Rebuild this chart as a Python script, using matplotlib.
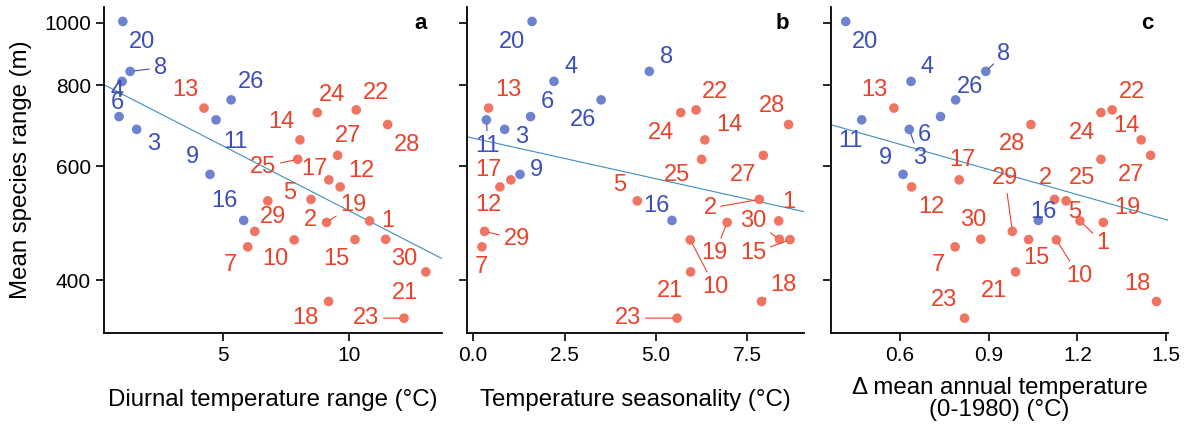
from matplotlib import pyplot as plt
from matplotlib.ticker import NullLocator
import numpy as np

plt.rcParams['font.family'] = ['Liberation Sans', 'DejaVu Sans']

# site numbers 1..30
sites = np.arange(1, 31)

# mean species range (m), one value per site
mean_range = np.array([493.7, 533.0, 683.8, 811.1, 530.2, 715.6, 450.2, 840.5, 582.6, 461.5,
                       707.3, 557.2, 737.6, 658.7, 462.0, 494.6, 571.3, 370.7, 491.1, 1004.0,
                       411.8, 732.9, 349.3, 725.9, 614.6, 759.5, 623.4, 695.6, 475.7, 462.5])

# diurnal temperature range (C)
diurnal = np.array([10.82, 8.49, 1.55, 0.97, 6.77, 0.85, 5.97, 1.29, 4.47, 7.82,
                    4.71, 9.65, 4.23, 8.05, 10.24, 5.81, 9.20, 9.19, 9.11, 1.00,
                    13.06, 10.29, 12.19, 8.74, 7.96, 5.31, 9.55, 11.54, 6.25, 11.46])

# temperature seasonality (C)
seasonality = np.array([8.36, 7.83, 0.86, 2.21, 4.49, 1.57, 0.24, 4.82, 1.28, 5.94,
                        0.36, 0.73, 0.42, 6.34, 8.67, 5.44, 1.03, 7.89, 6.95, 1.61,
                        5.95, 6.10, 5.58, 5.68, 6.25, 3.50, 7.94, 8.63, 0.31, 8.38])

# change in mean annual temperature 0-1980 (C)
delta_mat = np.array([1.209, 1.123, 0.631, 0.637, 1.162, 0.737, 0.786, 0.890, 0.610, 1.129,
                      0.470, 0.639, 0.579, 1.416, 1.035, 1.068, 0.800, 1.468, 1.288, 0.416,
                      0.991, 1.318, 0.818, 1.280, 1.280, 0.788, 1.448, 1.043, 0.980, 0.873])

blue_sites = [3, 4, 6, 8, 9, 11, 16, 20, 26]

# label offsets in pixels (dx right, dy down), and which labels get a leader segment
offs_a = {1: (18.6, 0), 2: (-1, 20.5), 3: (16.7, 14.5), 4: (-4.7, 9.7), 5: (21.6, -8.3),
          6: (-1.7, -13.4), 7: (-17.7, 18), 8: (30, -3.6), 9: (-17.3, -17.8), 10: (-19.3, 19.6),
          11: (19, 21.7), 12: (21.4, -16.3), 13: (-19, -18.2), 14: (-19, -18.3), 15: (-19, 19.8),
          16: (-19.7, -19.5), 17: (-14, -10.7), 18: (-23.7, 16.8), 19: (26.6, -17.5), 20: (19, 20.7),
          21: (-21, 21.3), 22: (19.7, -17.3), 23: (-37.7, 0), 24: (15, -17.7), 25: (-34.4, 7.2),
          26: (19.7, -18.3), 27: (10.6, -19.5), 28: (19.6, 20.3), 29: (18.6, -14.8), 30: (18.6, 20)}
lead_a = [8, 19, 23, 25]

offs_b = {1: (10.6, -19.3), 2: (-49.3, 8.8), 3: (17, 7.2), 4: (16.7, -14.8), 5: (-17.3, -16),
          6: (16.6, -15), 7: (-0.3, 19.7), 8: (17.4, -14.8), 9: (16.7, -4.5), 10: (24.7, 47),
          11: (1.6, 26), 12: (-11.7, 18), 13: (19.6, -18.2), 14: (24.3, -15), 15: (-36.7, 13.8),
          16: (-15.3, -14.5), 17: (-22.7, -10), 18: (21.6, -16.5), 19: (-12.3, 30.8), 20: (-20.3, 20.2),
          21: (-20.7, 18.7), 22: (18.7, -18.3), 23: (-48.7, 0), 24: (-20, 20.6), 25: (-25, 15.5),
          26: (-18, 20), 27: (-20, 19.5), 28: (-17, -18.7), 29: (32, 7.8), 30: (-26, -18.6)}
lead_b = [2, 10, 11, 15, 18, 19, 23, 29, 30]

offs_c = {1: (23.3, 22.3), 2: (-9, -21.2), 3: (10, 28.8), 4: (16.3, -14.8), 5: (8.7, 10.7),
          6: (-15.7, 18.3), 7: (-16.7, 18), 8: (18.3, -17.2), 9: (-18, -16.2), 10: (23, 36.3),
          11: (-11, 20.7), 12: (20, 19.7), 13: (-19.7, -18.2), 14: (-14.6, -14), 15: (8, 18.8),
          16: (5, -8.8), 17: (3.7, -20), 18: (-19, -17.5), 19: (24.4, -14.2), 20: (19.3, 20.2),
          21: (-21.7, 18.7), 22: (19.4, -18.3), 23: (-20, -18.3), 24: (-19.3, 20), 25: (-19.3, 18.8),
          26: (14.3, -12.7), 27: (-20, 19.5), 28: (-19.3, 19.3), 29: (-7.3, -53.2), 30: (-7.4, -19.5)}
lead_c = [1, 3, 8, 10, 29]

BLUE_PT, BLUE_TXT = '#6e83cf', '#3a4fb8'
RED_PT, RED_TXT = '#ef7462', '#e8432b'
LINE_COL = '#3e8dc0'
DPI = 100


def draw_panel(ax, x, xlim, xticks, xticklabels, letter, offs, leads, show_y):
    is_blue = np.isin(sites, blue_sites)
    pt_cols = np.where(is_blue, BLUE_PT, RED_PT)

    # linear fit of log10(range) on x
    slope, icpt = np.polyfit(x, np.log10(mean_range), 1)
    xs = np.array(xlim)
    ax.plot(xs, 10 ** (icpt + slope * xs), color=LINE_COL, lw=0.8, zorder=2)

    ax.scatter(x, mean_range, s=48, c=pt_cols, edgecolors='none', zorder=3)

    for i, s in enumerate(sites):
        dx, dy = offs[s]
        col = BLUE_TXT if is_blue[i] else RED_TXT
        kw = {}
        if s in leads:
            kw['arrowprops'] = dict(arrowstyle='-', color=col, lw=0.8, shrinkA=1, shrinkB=3)
        ax.annotate(str(s), (x[i], mean_range[i]), xytext=(dx * 72 / DPI, -dy * 72 / DPI),
                    textcoords='offset points', ha='center', va='center',
                    fontsize=17, color=col, zorder=4, **kw)

    ax.set_yscale('log')
    ax.set_ylim(331, 1058)
    ax.set_yticks([400, 600, 800, 1000])
    ax.yaxis.set_minor_locator(NullLocator())
    if show_y:
        ax.set_yticklabels(['400', '600', '800', '1000'])
    else:
        ax.set_yticklabels([])
    ax.set_xlim(*xlim)
    ax.set_xticks(xticks)
    ax.set_xticklabels(xticklabels)

    for side in ['top', 'right']:
        ax.spines[side].set_visible(False)
    for side in ['left', 'bottom']:
        ax.spines[side].set_linewidth(1.3)
    ax.tick_params(direction='out', length=5.5, width=1.2, pad=4, labelsize=15, colors='black')
    ax.text(0.955, 0.95, letter, transform=ax.transAxes, ha='right', va='center',
            fontsize=16, fontweight='bold')


fig = plt.figure(figsize=(11.85, 4.29), dpi=DPI)
w, h, bot = 0.2849, 0.7613, 0.2231
ax1 = fig.add_axes([0.0878, bot, w, h])
ax2 = fig.add_axes([0.3938, bot, w, h])
ax3 = fig.add_axes([0.7010, bot, w, h])

draw_panel(ax1, diurnal, (0.252, 13.69), [5, 10], ['5', '10'], 'a', offs_a, lead_a, True)
draw_panel(ax2, seasonality, (-0.18, 9.06), [0, 2.5, 5, 7.5], ['0.0', '2.5', '5.0', '7.5'],
           'b', offs_b, lead_b, False)
draw_panel(ax3, delta_mat, (0.365, 1.508), [0.6, 0.9, 1.2, 1.5], ['0.6', '0.9', '1.2', '1.5'],
           'c', offs_c, lead_c, False)

ax1.text(-0.247, 0.5, 'Mean species range (m)', transform=ax1.transAxes, rotation=90,
         ha='center', va='center', fontsize=17.3)
ax1.text(0.5, -0.204, 'Diurnal temperature range (°C)', transform=ax1.transAxes,
         ha='center', va='center', fontsize=17.3)
ax2.text(0.5, -0.204, 'Temperature seasonality (°C)', transform=ax2.transAxes,
         ha='center', va='center', fontsize=17.3)
ax3.text(0.5, -0.20, 'Δ mean annual temperature\n(0-1980) (°C)', transform=ax3.transAxes,
         ha='center', va='center', fontsize=17.3, linespacing=1.0)

fig.savefig('out.png', dpi=DPI)
